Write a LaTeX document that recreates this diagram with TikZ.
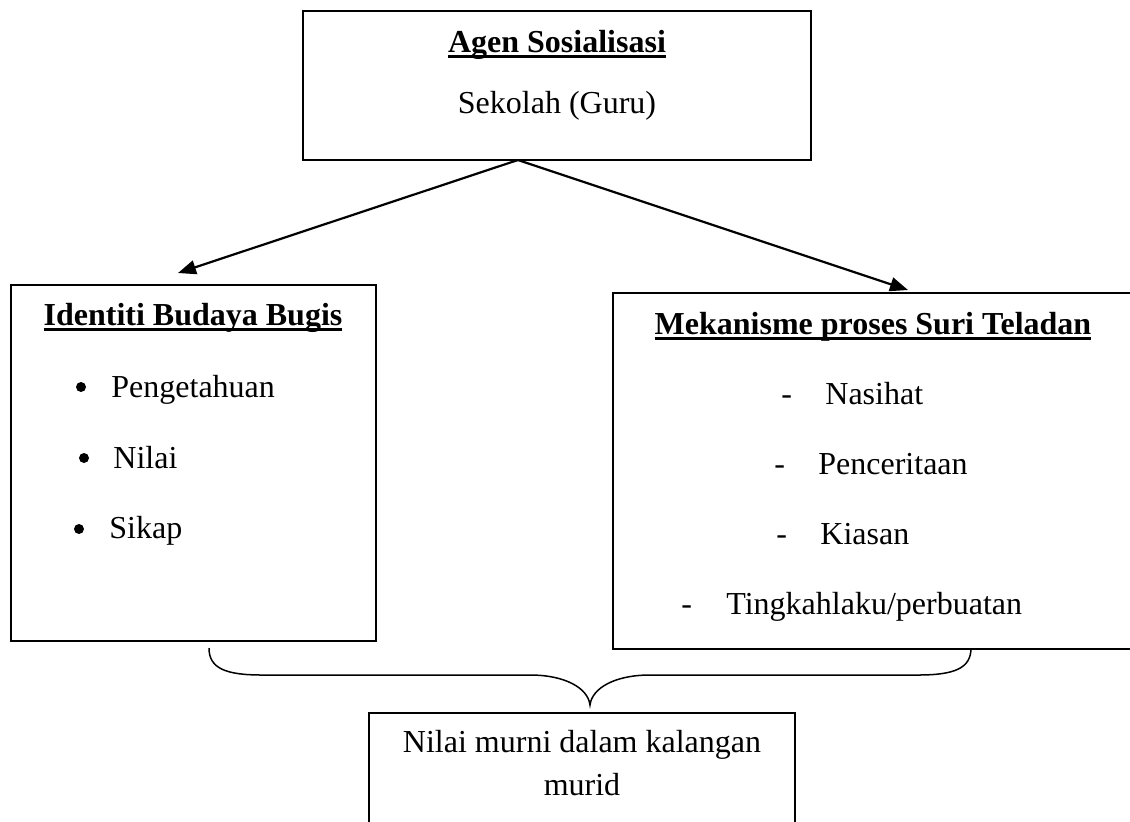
\documentclass[tikz,border=0pt]{standalone}
\usepackage{fontspec}
\setmainfont{Liberation Serif}
\usetikzlibrary{arrows.meta,fit}

\newcommand\ultitle[1]{\setbox0\hbox{\bfseries #1}\rlap{\rule[-3pt]{\wd0}{1.4pt}}\box0}

\tikzset{
    box/.style={draw, line width=1pt, inner sep=0pt},
    txt/.style={inner sep=0pt, font=\fontsize{16}{19}\selectfont},
    dot/.style={circle, fill, inner sep=0pt, minimum size=5pt},
    link/.style={line width=1.1pt, -{Triangle[length=9pt,width=7pt]}},
    bracket/.style={line width=0.75pt},
}

\begin{document}
\begin{tikzpicture}[x=0.5pt,y=-0.5pt]
    \useasboundingbox (0,0) rectangle (1130,821);

    % boxes
    \node[box, fit={(303,11) (811,160)}] (agen) {};
    \node[box, fit={(11,285) (376,641)}] (identiti) {};
    \node[box, fit={(613,293) (1160,649)}] (mekanisme) {};
    \node[box, fit={(369,713) (795,850)}] (nilai) {};

    % top box
    \node[txt, anchor=base] (agenT) at (557,52) {\ultitle{Agen Sosialisasi}};
    \node[txt, anchor=base] (sekolah) at (557,113) {Sekolah (Guru)};

    % left box
    \node[txt, anchor=base] (identitiT) at (193,325) {\ultitle{Identiti Budaya Bugis}};
    \node[dot] (dot1) at (81,387) {};
    \node[txt, anchor=base west] (item1) at (111,397) {Pengetahuan};
    \node[dot] (dot2) at (84,458) {};
    \node[txt, anchor=base west] (item2) at (113,468) {Nilai};
    \node[dot] (dot3) at (79,529) {};
    \node[txt, anchor=base west] (item3) at (109,538) {Sikap};

    % right box
    \node[txt, anchor=base] (mekanismeT) at (873,334) {\ultitle{Mekanisme proses Suri Teladan}};
    \node[txt, anchor=base west] (dash1) at (781,404) {-};
    \node[txt, anchor=base west] (cara1) at (825,404) {Nasihat};
    \node[txt, anchor=base west] (dash2) at (774,474) {-};
    \node[txt, anchor=base west] (cara2) at (818,474) {Penceritaan};
    \node[txt, anchor=base west] (dash3) at (776,544) {-};
    \node[txt, anchor=base west] (cara3) at (820,544) {Kiasan};
    \node[txt, anchor=base west] (dash4) at (681,614) {-};
    \node[txt, anchor=base west] (cara4) at (726,614) {Tingkahlaku/perbuatan};

    % bottom box
    \node[txt, anchor=base] (nilaiA) at (582,752) {Nilai murni dalam kalangan};
    \node[txt, anchor=base] (nilaiB) at (582,795) {murid};

    % arrows
    \coordinate (apex) at (518,160);
    \coordinate (leftTip) at (178,273);
    \coordinate (rightTip) at (908,290);
    \draw[link] (apex) -- (leftTip);
    \draw[link] (apex) -- (rightTip);

    % brace
    \coordinate (braceL) at (209,648);
    \coordinate (braceR) at (971,648);
    \coordinate (braceTip) at (590,705);
    \draw[bracket] (braceL) .. controls (209,668) and (225,675) .. (262,675) -- (530,675)
        .. controls (565,675) and (588,688) .. (braceTip)
        .. controls (592,688) and (615,675) .. (650,675) -- (918,675)
        .. controls (955,675) and (971,668) .. (braceR);
\end{tikzpicture}
\end{document}
